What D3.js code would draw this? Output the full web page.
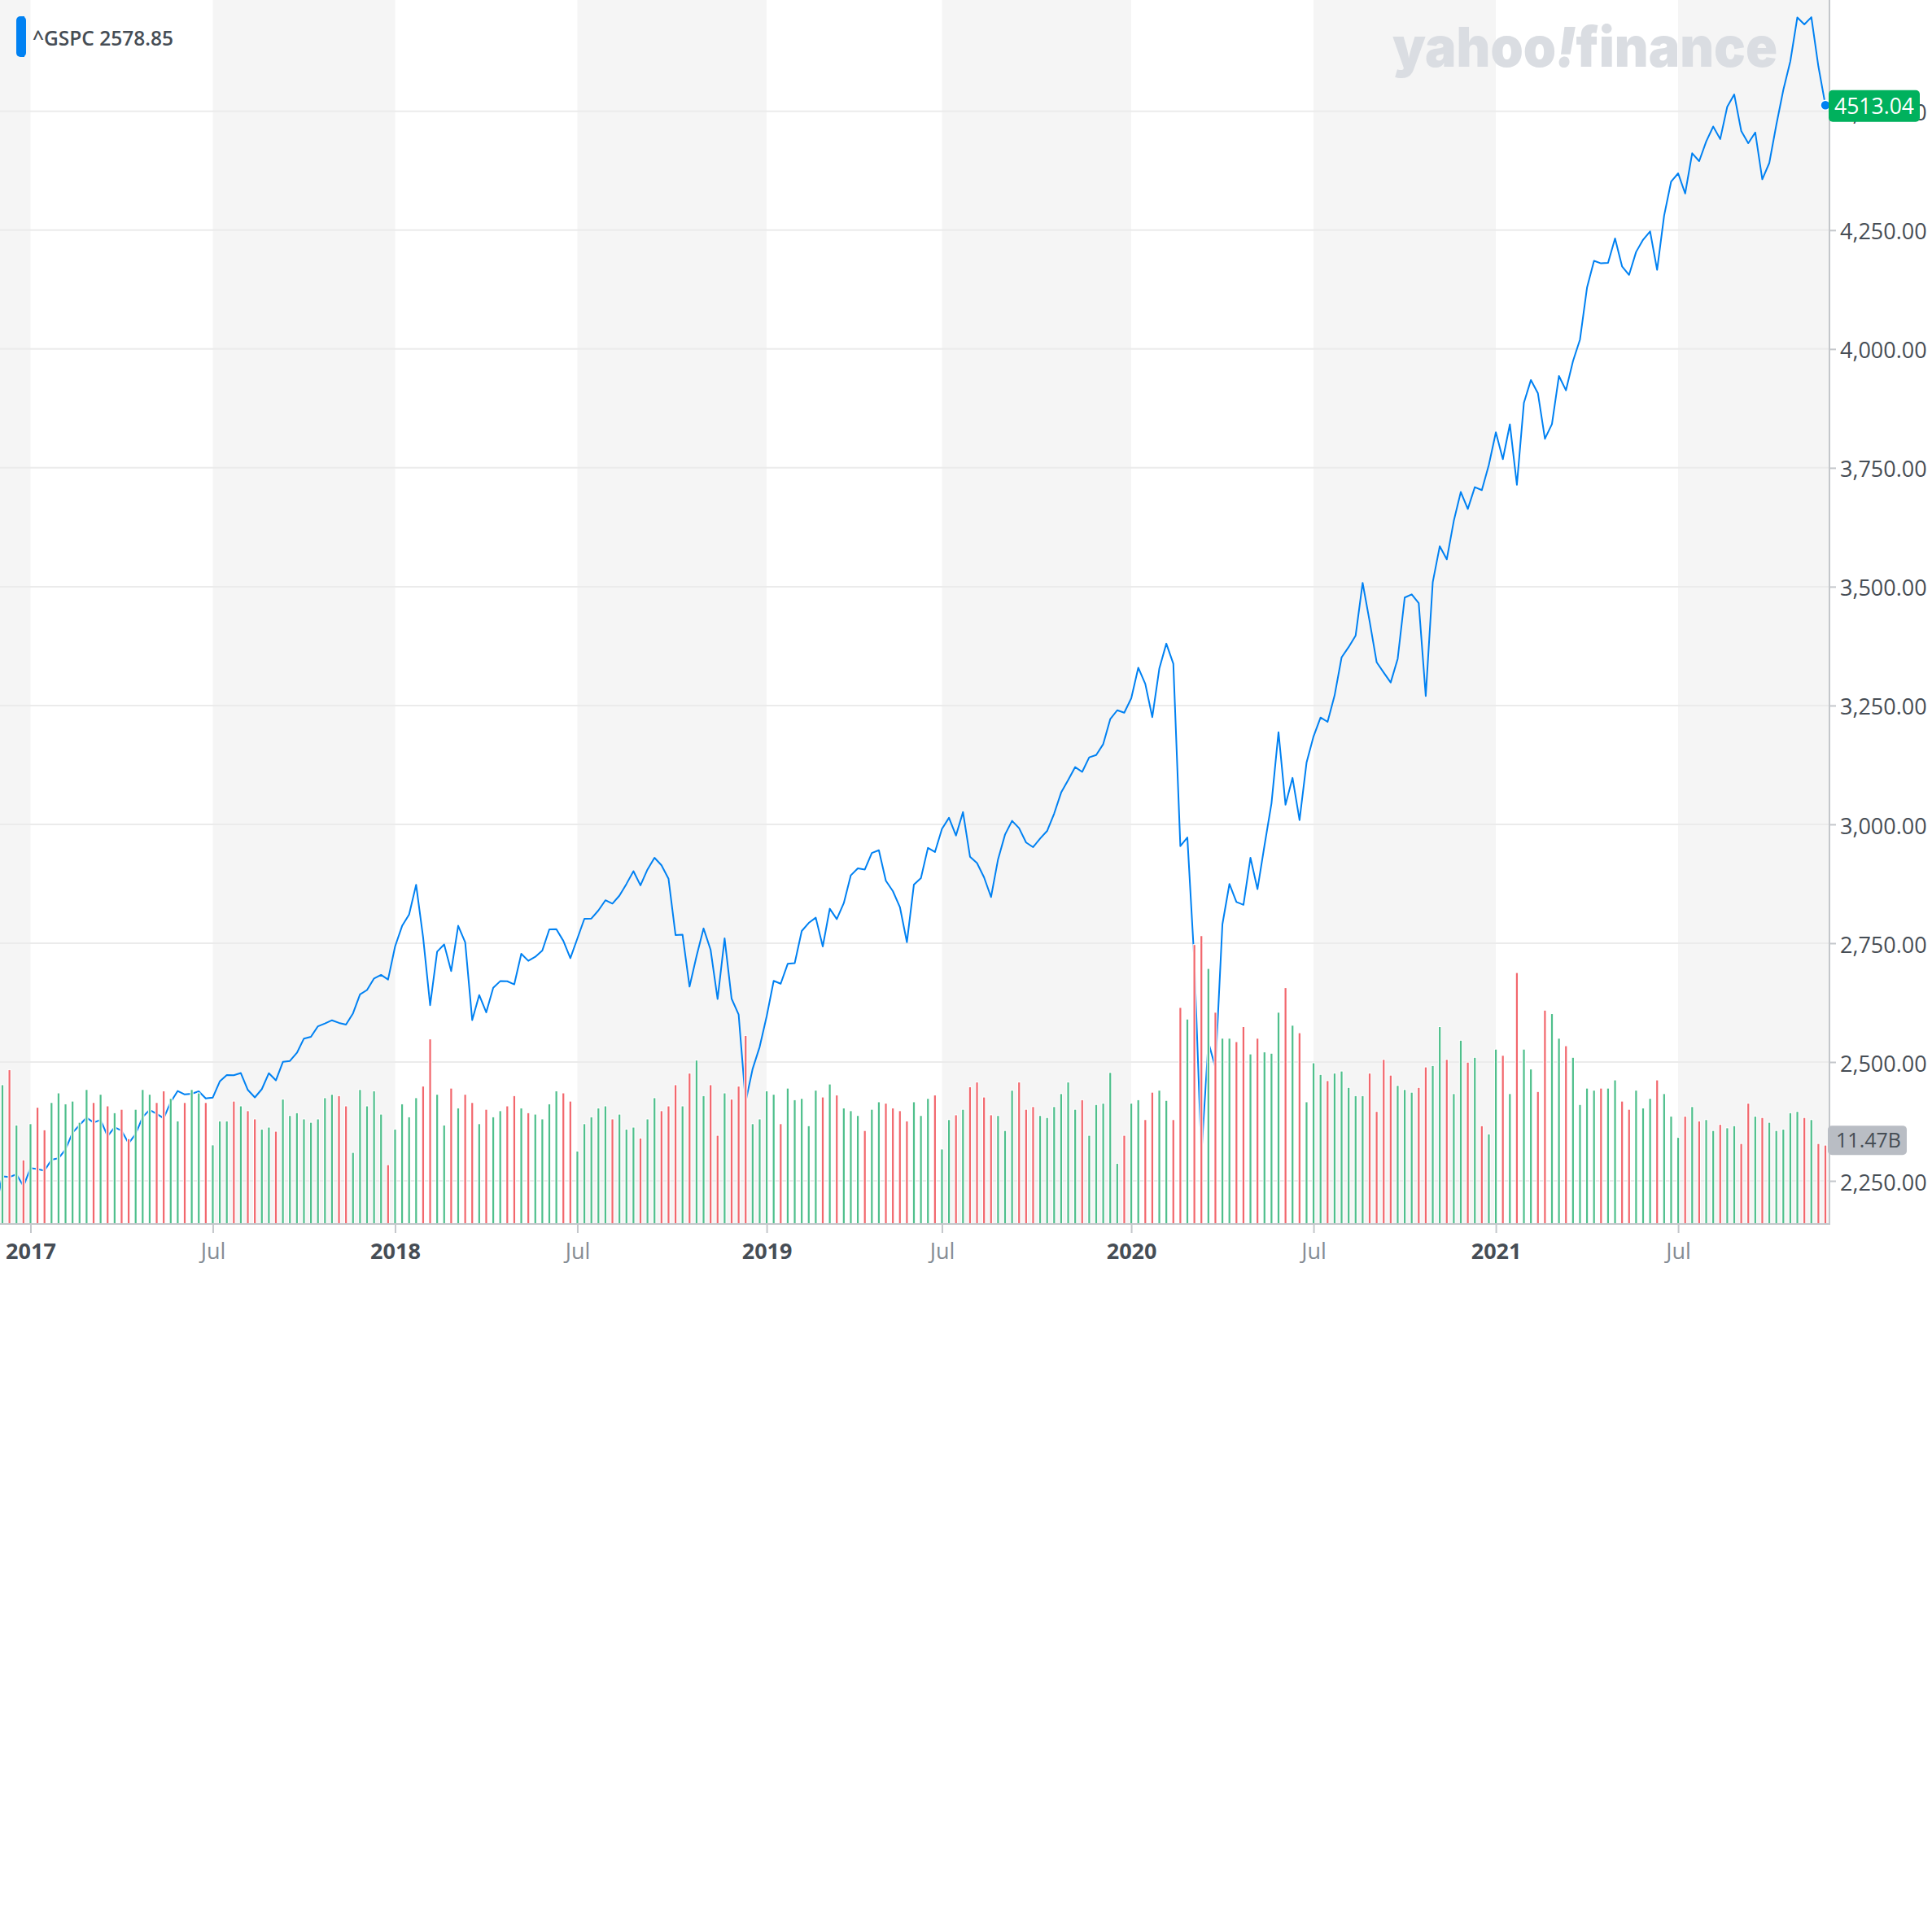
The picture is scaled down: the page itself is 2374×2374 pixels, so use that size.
<!DOCTYPE html>
<html><head><meta charset="utf-8">
<script src="https://cdn.jsdelivr.net/npm/d3@7"></script>
<style>
html,body{margin:0;padding:0;background:#fff;}
svg{display:block;}
</style></head>
<body>
<svg id="chart" width="2374" height="2374"></svg>
<script>
// ---------- DATA ----------
const startWeek = "2016-12-05";          // first weekly bar (Monday)
const priorWeek = "2016-11-28";
const priorClose = 2191.95;              // previous week's close (off-chart, left edge)
const closes = [
2259.53,2258.07,2263.79,2238.83,2276.98,2274.64,2271.31,2294.69,2297.42,2316.10,
2351.16,2367.34,2383.12,2372.60,2378.25,2343.98,2362.72,2355.54,2328.95,2348.69,
2384.20,2399.29,2390.90,2381.73,2415.82,2439.07,2431.77,2433.15,2438.30,2423.41,
2425.18,2459.27,2472.54,2472.10,2476.83,2441.32,2425.55,2443.05,2476.55,2461.43,
2500.23,2502.22,2519.36,2549.33,2553.17,2575.21,2581.07,2587.84,2582.30,2578.85,
2602.42,2642.22,2651.50,2675.81,2683.34,2673.61,2743.15,2786.24,2810.30,2872.87,
2762.13,2619.55,2732.22,2747.30,2691.25,2786.57,2752.01,2588.26,2640.87,2604.47,
2656.30,2670.14,2669.91,2663.42,2727.72,2712.97,2721.33,2734.62,2779.03,2779.66,
2754.88,2718.37,2759.82,2801.31,2801.83,2818.82,2840.35,2833.28,2850.13,2874.69,
2901.52,2871.68,2904.98,2929.67,2913.98,2885.57,2767.13,2767.78,2658.69,2723.06,
2781.01,2736.27,2632.56,2760.17,2633.08,2599.95,2416.62,2485.74,2531.94,2596.26,
2670.71,2664.76,2706.53,2707.88,2775.60,2792.67,2803.69,2743.07,2822.48,2800.71,
2834.40,2892.74,2907.41,2905.03,2939.88,2945.64,2881.40,2859.53,2826.06,2752.06,
2873.34,2886.98,2950.46,2941.76,2990.41,3013.77,2976.61,3025.86,2932.05,2918.65,
2888.68,2847.11,2926.46,2978.71,3007.39,2992.07,2961.79,2952.01,2970.27,2986.20,
3022.55,3066.91,3093.08,3120.46,3110.29,3140.98,3145.91,3168.80,3221.22,3240.02,
3234.85,3265.35,3329.62,3295.47,3225.52,3327.71,3380.16,3337.75,2954.22,2972.37,
2711.02,2304.92,2541.47,2488.65,2789.82,2874.56,2836.74,2830.71,2929.80,2863.70,
2955.45,3044.31,3193.93,3041.31,3097.74,3009.05,3130.01,3185.04,3224.73,3215.63,
3271.12,3351.28,3372.85,3397.16,3508.01,3426.96,3340.97,3319.47,3298.46,3348.42,
3477.13,3483.81,3465.39,3269.96,3509.44,3585.15,3557.54,3638.35,3699.12,3663.46,
3709.41,3703.06,3756.07,3824.68,3768.25,3841.47,3714.24,3886.83,3934.83,3906.71,
3811.15,3841.94,3943.34,3913.10,3974.54,4019.87,4128.80,4185.47,4180.17,4181.17,
4232.60,4173.85,4155.86,4204.11,4229.89,4247.44,4166.45,4280.70,4352.34,4369.55,
4327.16,4411.79,4395.26,4436.52,4468.00,4441.67,4509.37,4535.43,4458.58,4432.99,
4455.48,4357.04,4391.34,4471.37,4544.90,4605.38,4697.53,4682.85,4697.96,4594.62,
4513.04];
// weekly volume, billions of shares
const volumes = [
20.3,22.5,14.4,9.3,14.6,17.0,13.7,17.7,19.1,17.5,
17.9,14.8,19.6,17.7,18.9,17.2,16.2,16.7,12.4,16.7,
19.6,18.9,17.7,19.4,18.3,15.0,17.7,19.6,19.1,17.7,
11.5,15.0,15.0,17.9,17.2,16.5,15.3,13.8,14.1,13.5,
18.2,15.8,16.2,15.3,14.8,15.3,18.4,18.9,18.7,17.2,
10.4,19.6,17.2,19.4,16.0,8.6,13.8,17.5,15.6,18.4,
20.1,27.0,18.9,14.4,19.8,16.9,18.9,17.7,14.6,16.7,
15.6,16.5,17.2,18.7,16.9,16.2,16.0,15.3,17.5,19.4,
19.1,17.9,10.6,14.6,15.6,16.9,17.2,15.3,16.0,13.8,
14.1,12.5,15.3,18.4,16.5,17.2,20.3,17.2,22.0,23.9,
18.7,20.3,12.9,19.1,18.2,20.1,27.5,14.6,15.3,19.4,
18.9,14.6,19.8,18.1,18.3,14.3,19.5,18.5,20.4,18.8,
16.9,16.5,15.8,13.6,16.7,17.8,17.6,16.9,16.5,15.0,
17.8,15.8,18.3,18.8,10.9,15.2,15.9,16.7,20.0,20.7,
18.5,15.9,15.8,13.6,19.5,20.7,16.7,17.1,15.8,15.5,
17.1,19.0,20.7,16.7,18.1,12.9,17.4,17.6,22.1,8.8,
12.9,17.6,18.1,15.2,19.2,19.5,18.0,15.2,31.6,29.9,
40.8,42.1,37.3,30.9,27.1,27.1,26.6,28.8,24.8,27.1,
25.1,24.9,30.9,34.5,29.0,27.9,17.8,23.5,21.8,20.9,
22.0,22.3,19.9,18.7,18.7,22.0,16.4,24.0,21.7,20.2,
19.6,19.2,19.9,22.9,23.1,28.8,24.0,19.0,26.8,23.6,
24.3,14.3,13.1,25.5,24.6,19.0,36.7,25.5,22.6,19.3,
31.2,30.7,27.1,26.0,24.3,17.4,19.8,19.5,19.8,19.8,
21.0,17.9,16.7,19.5,16.9,18.3,21.0,19.0,15.7,12.6,
15.7,17.1,15.0,15.2,13.6,14.5,14.0,14.3,11.7,17.6,
15.7,15.5,14.8,13.6,13.8,16.2,16.4,15.5,15.2,11.7,
11.47];
const priceTicks = [2250, 2500, 2750, 3000, 3250, 3500, 3750, 4000, 4250, 4500];
const xTickDates = ["2017-01-02","2017-07-03","2018-01-01","2018-07-02","2019-01-07",
                    "2019-07-01","2020-01-06","2020-07-06","2021-01-04","2021-07-05"];
const legendSymbol = "^GSPC";
const legendValue = "2578.85";
const lastVolumeLabel = "11.47B";

// ---------- LAYOUT / STYLE ----------
const PL = 0, PT = 0, PR = 2248, PB = 1504;
const FONT = "'Open Sans', 'Noto Sans', sans-serif";
const C = {
  line: "#0081f2", up: "#4fbf8c", down: "#f2676d", band: "#f5f5f5",
  grid: "#ebebeb", axis: "#c4c7cb", text: "#464d55", textLight: "#858c94",
  green: "#00b15d", volBox: "#b9bdc4", mark: "#dadde2"
};

const parse = d3.utcParse("%Y-%m-%d");
const start = parse(startWeek);
const dates = closes.map((_, i) => d3.utcDay.offset(start, 7 * i));
const data = closes.map((c, i) => ({
  date: dates[i], close: c, volume: volumes[i],
  up: c >= (i === 0 ? priorClose : closes[i - 1])
}));
const lineData = [{date: parse(priorWeek), close: priorClose}].concat(data);

const x = d3.scaleUtc().domain([dates[0], dates[dates.length - 1]]).range([3, 2243]);
const y = d3.scaleLinear().domain([2159.3, 4734.2]).range([PB, PT]);
const yVol = d3.scaleLinear().domain([0, 179]).range([PB, PT]);

const svg = d3.select("#chart");
svg.append("rect").attr("width", 2374).attr("height", 2374).attr("fill", "#fff");

svg.append("defs").append("clipPath").attr("id", "plotClip")
  .append("rect").attr("x", PL).attr("y", PT).attr("width", PR - PL).attr("height", PB - PT);

const plot = svg.append("g").attr("clip-path", "url(#plotClip)");

// alternating half-year bands
const tickDates = xTickDates.map(parse);
const edges = [PL].concat(tickDates.map(d => x(d)), [PR]);
const bands = d3.pairs(edges).map((p, i) => ({x0: p[0], x1: p[1], gray: i % 2 === 0}));
plot.selectAll("rect.band").data(bands.filter(b => b.gray)).join("rect")
  .attr("class", "band").attr("x", d => d.x0).attr("y", PT)
  .attr("width", d => d.x1 - d.x0).attr("height", PB - PT).attr("fill", C.band);

// gridlines
plot.selectAll("line.grid").data(priceTicks).join("line")
  .attr("class", "grid").attr("x1", PL).attr("x2", PR)
  .attr("y1", d => y(d)).attr("y2", d => y(d))
  .attr("stroke", C.grid).attr("stroke-width", 2);

// watermark
const wm = svg.append("text").attr("x", 1711).attr("y", 82)
  .attr("font-family", "Inter, 'Open Sans', sans-serif").attr("font-weight", 900)
  .attr("font-size", 68).attr("fill", C.mark)
  .attr("textLength", 473).attr("lengthAdjust", "spacingAndGlyphs");
wm.append("tspan").text("yahoo");
wm.append("tspan").attr("font-style", "italic").text("!");
wm.append("tspan").text("finance");

// price line
plot.append("path").datum(lineData)
  .attr("d", d3.line().x(d => x(d.date)).y(d => y(d.close)))
  .attr("fill", "none").attr("stroke", C.line).attr("stroke-width", 2)
  .attr("stroke-linejoin", "round");

// volume bars (white halo, then coloured bar)
const bw = 2.2;
plot.selectAll("rect.halo").data(data).join("rect")
  .attr("class", "halo")
  .attr("x", d => x(d.date) - bw / 2 - 1).attr("y", d => yVol(d.volume) - 1)
  .attr("width", bw + 2).attr("height", d => PB - yVol(d.volume) + 1)
  .attr("fill", "#fff");
plot.selectAll("rect.vol").data(data).join("rect")
  .attr("class", "vol")
  .attr("x", d => x(d.date) - bw / 2).attr("y", d => yVol(d.volume))
  .attr("width", bw).attr("height", d => PB - yVol(d.volume))
  .attr("fill", d => d.up ? C.up : C.down);

// right axis
const yAxis = svg.append("g").attr("transform", `translate(${PR},0)`)
  .call(d3.axisRight(y).tickValues(priceTicks).tickFormat(d3.format(",.2f"))
    .tickSize(8).tickPadding(5));
yAxis.select(".domain").remove();
yAxis.selectAll(".tick line").attr("stroke", C.axis).attr("stroke-width", 2);
yAxis.selectAll(".tick text").attr("fill", C.text).attr("font-family", FONT)
  .attr("font-size", 27).attr("dy", "0.41em");

// bottom axis
const xAxis = svg.append("g").attr("transform", `translate(0,${PB})`)
  .call(d3.axisBottom(x).tickValues(tickDates)
    .tickFormat(d => d.getUTCMonth() === 0 ? d3.utcFormat("%Y")(d) : d3.utcFormat("%b")(d))
    .tickSize(11).tickPadding(13));
xAxis.select(".domain").remove();
xAxis.selectAll(".tick line").attr("stroke", C.axis).attr("stroke-width", 2);
xAxis.selectAll(".tick text").attr("font-family", FONT).attr("font-size", 27)
  .attr("font-weight", d => d.getUTCMonth() === 0 ? 700 : 400)
  .attr("fill", d => d.getUTCMonth() === 0 ? C.text : C.textLight);

// axis frame lines
svg.append("line").attr("x1", PL).attr("x2", PR + 1).attr("y1", PB).attr("y2", PB)
  .attr("stroke", C.axis).attr("stroke-width", 2);
svg.append("line").attr("x1", PR).attr("x2", PR).attr("y1", PT).attr("y2", PB)
  .attr("stroke", C.axis).attr("stroke-width", 2);

// last value marker + labels
const last = data[data.length - 1];
svg.append("circle").attr("cx", x(last.date)).attr("cy", y(last.close)).attr("r", 6)
  .attr("fill", C.line).attr("stroke", "#fff").attr("stroke-width", 1.5);

const pyc = y(last.close) + 1;
svg.append("rect").attr("x", 2247).attr("y", pyc - 19.5).attr("width", 112).attr("height", 39)
  .attr("rx", 5).attr("fill", C.green);
svg.append("text").attr("x", 2303).attr("y", pyc + 9.6).attr("text-anchor", "middle")
  .attr("font-family", FONT).attr("font-size", 26.5).attr("fill", "#fff")
  .text(d3.format(".2f")(last.close));

const vyc = yVol(last.volume) - 6.5;
svg.append("rect").attr("x", 2246).attr("y", vyc - 18).attr("width", 97).attr("height", 36)
  .attr("rx", 5).attr("fill", C.volBox);
svg.append("text").attr("x", 2296).attr("y", vyc + 9).attr("text-anchor", "middle")
  .attr("font-family", FONT).attr("font-size", 25).attr("fill", C.text)
  .text(lastVolumeLabel);

// legend
svg.append("rect").attr("x", 20).attr("y", 20).attr("width", 12).attr("height", 50)
  .attr("rx", 5).attr("fill", C.line);
svg.append("rect").attr("x", 26).attr("y", 20).attr("width", 4).attr("height", 50)
  .attr("fill", C.line);
const lg = svg.append("text").attr("x", 40).attr("y", 56)
  .attr("font-family", FONT).attr("font-size", 24.5).attr("font-weight", 600).attr("fill", C.text);
lg.append("tspan").text(legendSymbol);
lg.append("tspan").text(" " + legendValue);
</script>
</body></html>
